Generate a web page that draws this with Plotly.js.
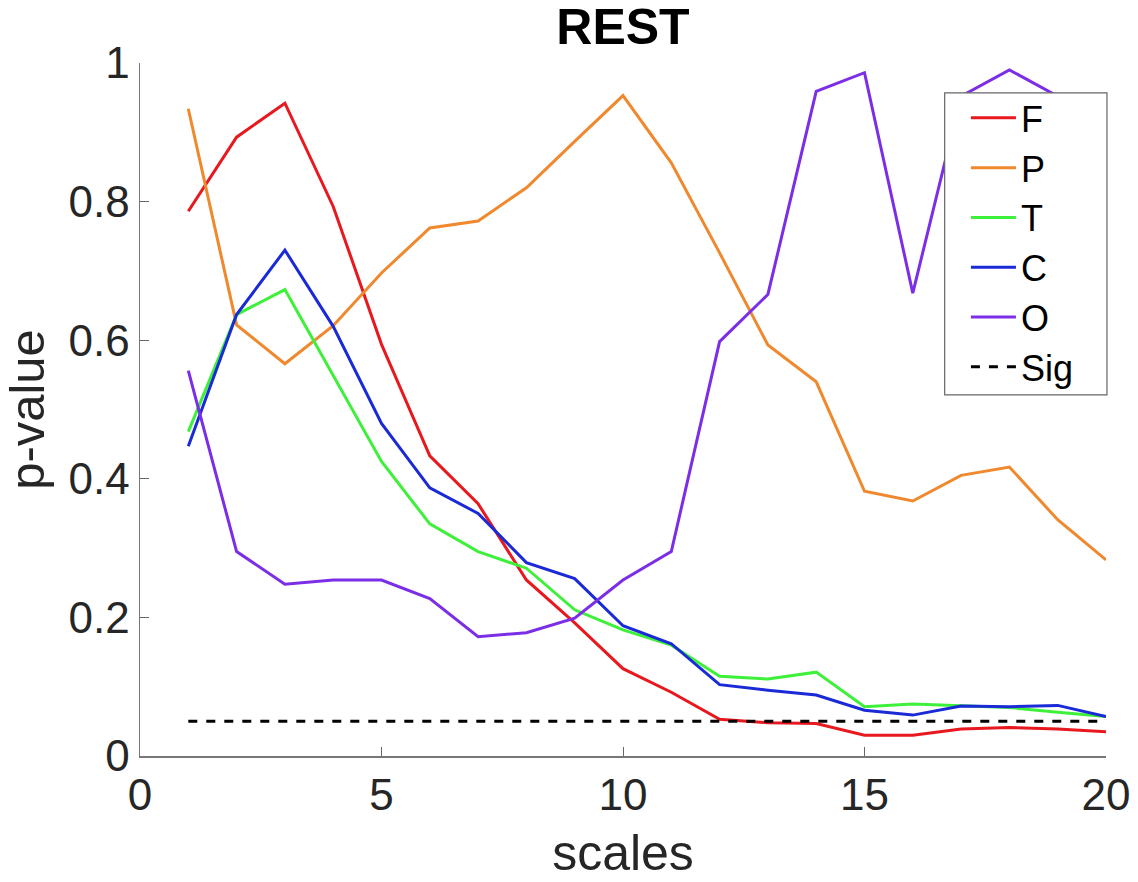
<!DOCTYPE html>
<html>
<head>
<meta charset="utf-8">
<script src="https://cdn.plot.ly/plotly-3.0.1.min.js"></script>
<style>html,body{margin:0;padding:0;background:#fff;}#chart{width:1138px;height:882px;}</style>
</head>
<body>
<div id="chart"></div>
<script>
const scales = [1,2,3,4,5,6,7,8,9,10,11,12,13,14,15,16,17,18,19,20];
const seriesF = [0.786,0.893,0.942,0.793,0.594,0.433,0.364,0.254,0.192,0.126,0.092,0.053,0.048,0.047,0.030,0.030,0.039,0.041,0.039,0.035];
const seriesP = [0.934,0.622,0.566,0.621,0.697,0.762,0.772,0.820,0.887,0.953,0.856,0.726,0.593,0.540,0.382,0.368,0.405,0.417,0.341,0.283];
const seriesT = [0.468,0.637,0.673,0.550,0.425,0.335,0.295,0.271,0.211,0.182,0.160,0.115,0.111,0.121,0.071,0.075,0.072,0.070,0.063,0.057];
const seriesC = [0.447,0.637,0.730,0.620,0.480,0.387,0.350,0.279,0.256,0.188,0.162,0.103,0.095,0.088,0.066,0.059,0.072,0.071,0.073,0.057];
const seriesO = [0.556,0.295,0.248,0.254,0.254,0.227,0.172,0.178,0.199,0.254,0.295,0.598,0.666,0.959,0.986,0.668,0.952,0.990,0.952,0.880];
const sigLevel = [0.05,0.05,0.05,0.05,0.05,0.05,0.05,0.05,0.05,0.05,0.05,0.05,0.05,0.05,0.05,0.05,0.05,0.05,0.05,0.05];
const names = ["F","P","T","C","O","Sig"];
const colors = ["#e8181f","#f0882e","#3ef03a","#1a2ad6","#7b2ee6","#000000"];
const allSeries = [seriesF, seriesP, seriesT, seriesC, seriesO, sigLevel];

const traces = allSeries.map((s,i)=>({
  x: scales, y: s, type:"scatter", mode:"lines", name: names[i],
  line: {color: colors[i], width: 3, dash: i===5 ? "dash" : "solid"}
}));

const font = "Liberation Sans, Arial, Helvetica, sans-serif";
const layout = {
  width:1138, height:882,
  paper_bgcolor:"#fff", plot_bgcolor:"#fff",
  margin:{l:140, r:32, t:63, b:126},
  title:{text:"<b>REST</b>", font:{family:font, size:50, color:"#000"}, x:0.5, xref:"paper", xanchor:"center", y:0.97, yanchor:"middle"},
  showlegend:true,
  legend:{x:0.855, y:0.964, xanchor:"left", yanchor:"top", bgcolor:"rgba(0,0,0,0)", borderwidth:0,
    font:{family:font, size:36, color:"#000"}, tracegroupgap:0, itemwidth:45},
  shapes:[{type:"rect", xref:"paper", yref:"paper", x0:0.833, x1:1.001, y0:0.521, y1:0.957,
    fillcolor:"#fff", line:{color:"#666", width:1.2}, layer:"above"}],
  xaxis:{range:[0,20], tickvals:[0,5,10,15,20], ticktext:["0","5","10","15","20"], ticks:"inside", ticklen:9, tickcolor:"#666",
    showline:true, linecolor:"#777", linewidth:1.5, showgrid:false, zeroline:false, mirror:false, automargin:false,
    tickfont:{family:font, size:44, color:"#262626"},
    title:{text:"scales", font:{family:font, size:50, color:"#262626"}, standoff:16}},
  yaxis:{range:[0,1], tickvals:[0,0.2,0.4,0.6,0.8,1], ticktext:["0","0.2","0.4","0.6","0.8","1"], ticks:"inside", ticklen:9, tickcolor:"#666",
    showline:true, linecolor:"#777", linewidth:1.5, showgrid:false, zeroline:false, mirror:false, automargin:false,
    tickfont:{family:font, size:44, color:"#262626"},
    title:{text:"p-value", font:{family:font, size:49, color:"#262626"}, standoff:10}}
};
Plotly.newPlot("chart", traces, layout, {displayModeBar:false, staticPlot:true});
</script>
</body>
</html>
